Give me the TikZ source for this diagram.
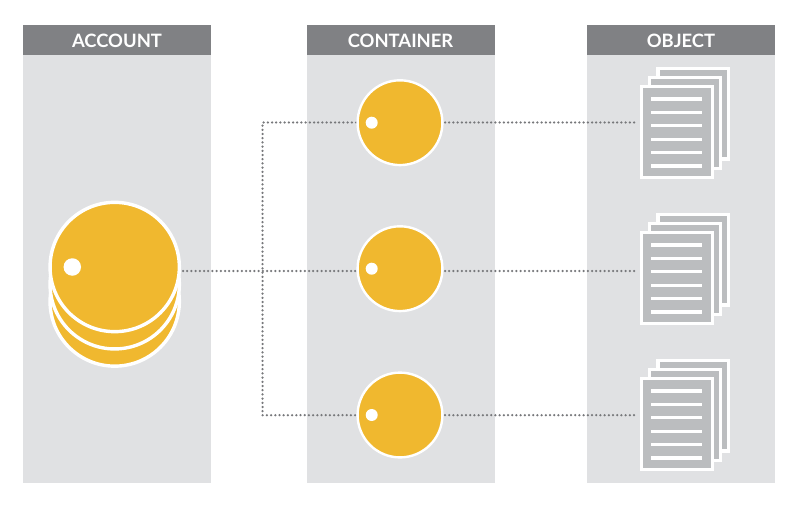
\documentclass[tikz,border=0pt]{standalone}
\usepackage{fontspec}
\setmainfont{Lato}
\definecolor{panelc}{HTML}{E0E1E3}
\definecolor{headc}{HTML}{808184}
\definecolor{yel}{HTML}{F0B82F}
\definecolor{docc}{HTML}{BBBDBF}
\definecolor{dotc}{HTML}{77787B}
\tikzset{
  panelbox/.style={fill=panelc,draw=none,inner sep=0pt,minimum width=188pt,minimum height=428pt,anchor=north west},
  headbox/.style={fill=headc,draw=none,inner sep=0pt,minimum width=188pt,minimum height=30pt,anchor=north west},
  headtext/.style={text=white,inner sep=0pt,anchor=base,font=\bfseries\fontsize{18.4}{20}\selectfont},
  bigdisc/.style={circle,fill=yel,draw=white,line width=3.4pt,inner sep=0pt,minimum size=129.3pt},
  meddisc/.style={circle,fill=yel,draw=white,line width=2.4pt,inner sep=0pt,minimum size=84.8pt},
  bigspot/.style={circle,fill=white,draw=none,inner sep=0pt,minimum size=17.5pt},
  smallspot/.style={circle,fill=white,draw=none,inner sep=0pt,minimum size=12pt},
  sheet/.style={rectangle,fill=docc,draw=white,line width=3.4pt,inner sep=0pt,minimum width=70.8pt,minimum height=90.8pt},
  textline/.style={draw=white,line width=3.2pt},
  dotline/.style={draw=dotc,line width=2.5pt,line cap=round,dash pattern=on 0pt off 4.2pt}
}
\begin{document}
\begin{tikzpicture}[x=1pt,y=-1pt]
\useasboundingbox (0,0) rectangle (800,508);
\fill[white] (0,0) rectangle (800,508);
% panels
\foreach \n/\x/\t in {a/23/ACCOUNT,b/306.5/CONTAINER,c/587/OBJECT}{
  \node[panelbox] (panel\n) at (\x,55) {};
  \node[headbox] (head\n) at (\x,25) {};
  \node[headtext] (title\n) at (\x+94,47.6) {\t};
}
% connector end points
\coordinate (acctout) at (183,271);
\coordinate (junction) at (262.5,271);
\coordinate (top) at (262.5,122.5);
\coordinate (bot) at (262.5,415.2);
\coordinate (cin1) at (356,122.5);
\coordinate (cin2) at (356,271);
\coordinate (cin3) at (356,415.2);
\coordinate (cout1) at (445,122.5);
\coordinate (cout2) at (445,271);
\coordinate (cout3) at (445,415.2);
\coordinate (din1) at (638,122.5);
\coordinate (din2) at (638,271);
\coordinate (din3) at (638,415.2);
\draw[dotline] (acctout) -- (cin2);
\draw[dotline] (cin1) -- (top) -- (bot) -- (cin3);
\foreach \i in {1,2,3}{\draw[dotline] (cout\i) -- (din\i);}
% account stack
\node[bigdisc] (acct3) at (114.7,301.5) {};
\node[bigdisc] (acct2) at (114.7,284.3) {};
\node[bigdisc] (acct1) at (114.7,267) {};
\node[bigspot] (acctspot) at (72.3,267) {};
% containers
\foreach \i/\y in {1/122.7,2/268.7,3/415}{
  \node[meddisc] (cont\i) at (400,\y) {};
  \node[smallspot] (spot\i) at (371.7,\y) {};
}
% documents
\foreach \i/\dy in {1/0,2/146,3/292}{
  \node[sheet] (back\i) at (693.3,113.7+\dy) {};
  \node[sheet] (mid\i) at (685.1,122.9+\dy) {};
  \node[sheet] (front\i) at (676.8,132+\dy) {};
  \foreach \ly in {99,112.4,125.8,139.2,152.6,166}{
    \draw[textline] (651.3,\ly+\dy) -- (702.3,\ly+\dy);
  }
}
\end{tikzpicture}
\end{document}
